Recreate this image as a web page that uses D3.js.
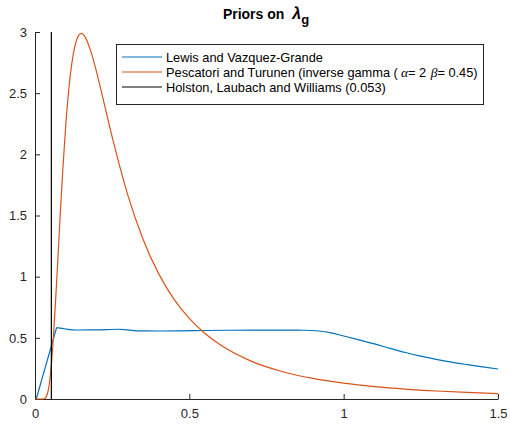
<!DOCTYPE html>
<html lang="en">
<head>
    <meta charset="UTF-8">
    <title>Priors on lambda_g</title>
    <script src="https://d3js.org/d3.v7.min.js"></script>
    <style>
        body {
            margin: 0;
            background-color: #fff;
            font-family: "Liberation Sans", Arial, Helvetica, sans-serif;
        }
        .tick text {
            fill: #262626;
            font-size: 13px;
        }
        .legend-text {
            fill: #000;
            font-size: 12.8px;
        }
    </style>
</head>
<body>
    <svg width="510" height="428"></svg>

    <script>
        // Lewis and Vazquez-Grande
        var lvgX = [0.004, 0.07, 0.1, 0.14, 0.2, 0.27, 0.3, 0.34, 0.4, 0.47, 0.55, 0.63, 0.7, 0.8, 0.87, 0.92, 0.96, 1.0, 1.05, 1.1, 1.15, 1.2, 1.25, 1.3, 1.35, 1.4, 1.45, 1.5];
        var lvgY = [0, 0.583, 0.572, 0.564, 0.565, 0.570, 0.565, 0.557, 0.556, 0.557, 0.560, 0.562, 0.563, 0.563, 0.562, 0.556, 0.54, 0.515, 0.483, 0.450, 0.414, 0.380, 0.350, 0.324, 0.301, 0.281, 0.262, 0.245];

        // Pescatori and Turunen (inverse gamma)
        var ptX = [0, 0.01, 0.02, 0.03, 0.04, 0.05, 0.06, 0.07, 0.08, 0.09, 0.10, 0.11, 0.12, 0.13, 0.14, 0.15, 0.16, 0.18, 0.20, 0.22, 0.25, 0.30, 0.35, 0.40, 0.45, 0.50, 0.55, 0.60, 0.70, 0.80, 0.90, 1.00, 1.10, 1.20, 1.30, 1.40, 1.50];
        var ptY = [0, 0, 0, 0.002, 0.041, 0.200, 0.518, 0.953, 1.425, 1.872, 2.250, 2.544, 2.756, 2.893, 2.966, 2.988, 2.969, 2.850, 2.668, 2.459, 2.142, 1.673, 1.306, 1.027, 0.817, 0.659, 0.537, 0.443, 0.310, 0.225, 0.168, 0.129, 0.101, 0.0805, 0.0652, 0.0535, 0.0444];

        // Holston, Laubach and Williams
        var hlwValue = 0.053;

        var xTicks = [0, 0.5, 1, 1.5];
        var yTicks = [0, 0.5, 1, 1.5, 2, 2.5, 3];

        var legendLabels = [
            "Lewis and Vazquez-Grande",
            "Pescatori and Turunen (inverse gamma (",
            "Holston, Laubach and Williams (0.053)"
        ];
        var colors = ["#0072BD", "#D95319", "#000000"];

        var xScale = d3.scaleLinear().domain([0, 1.5]).range([35, 498]);
        var yScale = d3.scaleLinear().domain([0, 3]).range([399, 32]);

        var svg = d3.select("svg");

        // axes (box off, ticks pointing in)
        var xAxis = svg.append("g")
            .attr("transform", "translate(0,399)")
            .call(d3.axisBottom(xScale).tickValues(xTicks).tickSizeInner(-5).tickSizeOuter(0).tickPadding(10).tickFormat(d3.format("")));
        var yAxis = svg.append("g")
            .attr("transform", "translate(35,0)")
            .call(d3.axisLeft(yScale).tickValues(yTicks).tickSizeInner(-5).tickSizeOuter(0).tickPadding(8).tickFormat(d3.format("")));

        [xAxis, yAxis].forEach(function(ax) {
            ax.select(".domain").attr("stroke", "#262626");
            ax.selectAll(".tick line").attr("stroke", "#262626");
            ax.selectAll(".tick text").attr("font-family", null).attr("font-size", null);
        });

        var line = d3.line()
            .x(function(d) { return xScale(d[0]); })
            .y(function(d) { return yScale(d[1]); });
        var smooth = d3.line()
            .x(function(d) { return xScale(d[0]); })
            .y(function(d) { return yScale(d[1]); })
            .curve(d3.curveMonotoneX);

        var plot = svg.append("g");
        var lvg = d3.zip(lvgX, lvgY);

        // straight rise, then smooth plateau and tail
        plot.append("path")
            .datum(lvg.slice(0, 2))
            .attr("fill", "none")
            .attr("stroke", colors[0])
            .attr("stroke-width", 1.2)
            .attr("d", line);
        plot.append("path")
            .datum(lvg.slice(1))
            .attr("fill", "none")
            .attr("stroke", colors[0])
            .attr("stroke-width", 1.2)
            .attr("d", smooth);

        plot.append("path")
            .datum(d3.zip(ptX, ptY))
            .attr("fill", "none")
            .attr("stroke", colors[1])
            .attr("stroke-width", 1.2)
            .attr("d", smooth);

        plot.append("line")
            .attr("x1", xScale(hlwValue))
            .attr("x2", xScale(hlwValue))
            .attr("y1", yScale(0))
            .attr("y2", yScale(3))
            .attr("stroke", colors[2])
            .attr("stroke-width", 1.2);

        // title
        var title = svg.append("text")
            .attr("x", 266)
            .attr("y", 19)
            .attr("text-anchor", "middle")
            .attr("font-weight", "bold")
            .attr("font-size", "14px")
            .attr("fill", "#000");
        title.append("tspan").text("Priors on ");
        title.append("tspan").attr("font-style", "italic").attr("font-size", "16px").attr("dx", 4).text("λ");
        title.append("tspan").attr("dy", 5).attr("font-size", "13px").text("g");

        // legend
        var legend = svg.append("g");
        legend.append("rect")
            .attr("x", 116.5)
            .attr("y", 44.5)
            .attr("width", 367)
            .attr("height", 60)
            .attr("fill", "#fff")
            .attr("stroke", "#262626")
            .attr("stroke-width", 1);

        legendLabels.forEach(function(label, i) {
            var cy = 57 + i * 15;
            legend.append("line")
                .attr("x1", 122).attr("x2", 162)
                .attr("y1", cy).attr("y2", cy)
                .attr("stroke", colors[i])
                .attr("stroke-width", 1.2);
            var t = legend.append("text")
                .attr("class", "legend-text")
                .attr("x", 166)
                .attr("y", cy + 4.5)
                .text(label);
            if (i === 1) {
                t.append("tspan").attr("dx", 3).attr("font-family", "'Liberation Serif', serif").attr("font-style", "italic").attr("font-size", "13.5px").text("α");
                t.append("tspan").text("= 2 ");
                t.append("tspan").attr("dx", 1).attr("font-family", "'Liberation Serif', serif").attr("font-style", "italic").attr("font-size", "13.5px").text("β");
                t.append("tspan").text("= 0.45)");
            }
        });
    </script>
</body>
</html>
